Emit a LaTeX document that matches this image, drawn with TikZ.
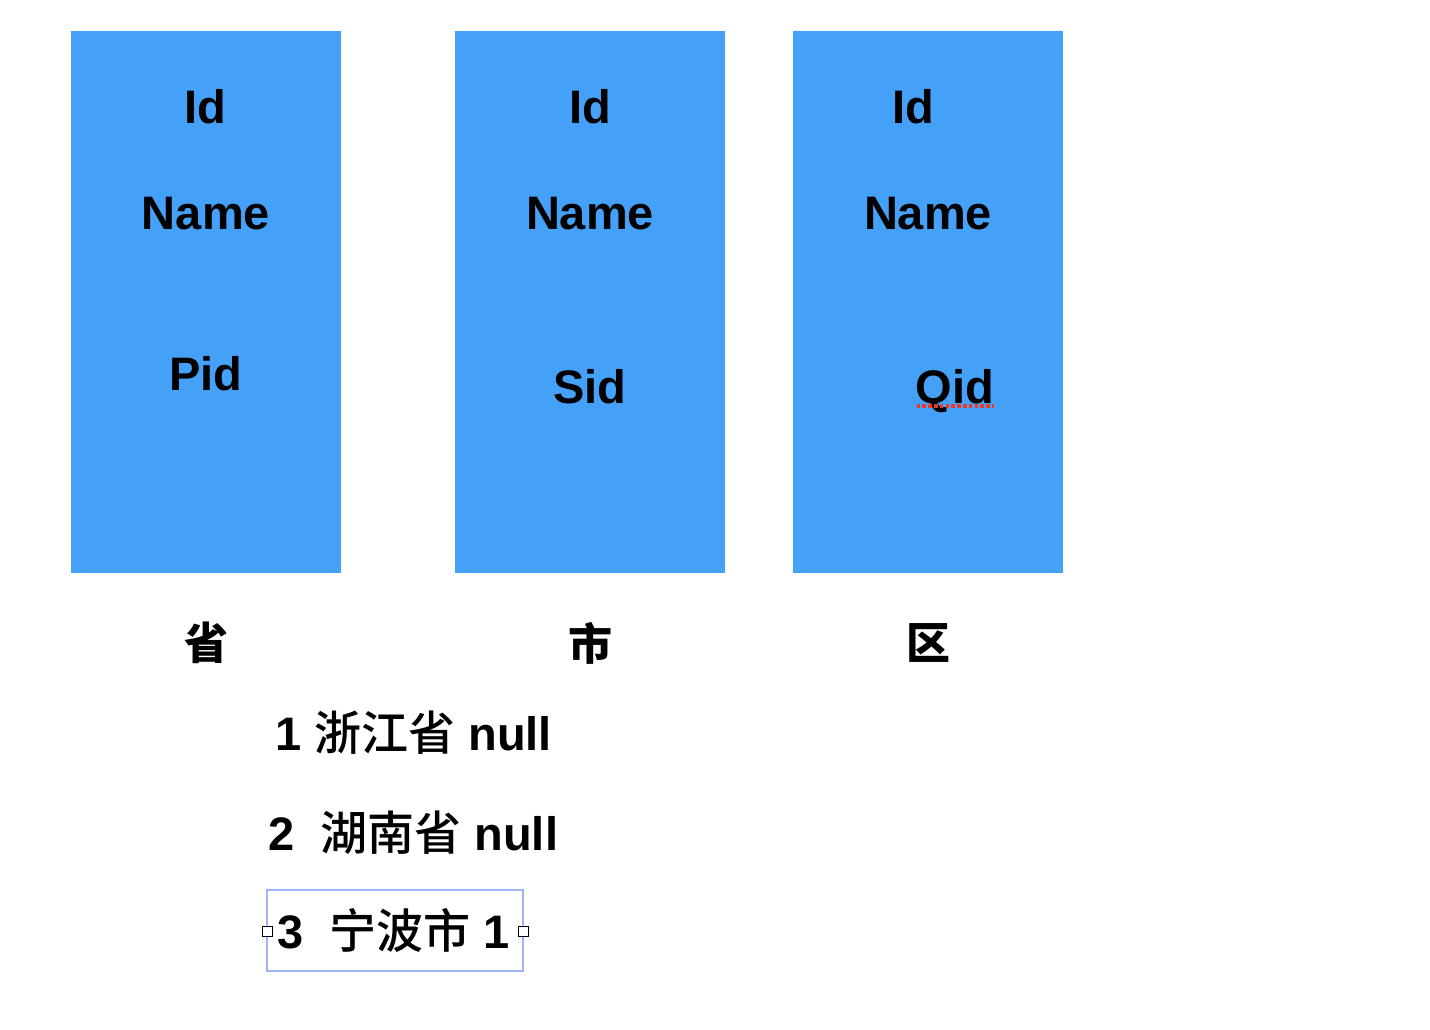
\documentclass[tikz,border=0pt]{standalone}
\usepackage{fontspec}
\setmainfont{Liberation Sans}
\newfontfamily\cjk{Noto Sans CJK SC}[BoldFont={* Medium}]
\newfontfamily\cjkheavy{Noto Sans CJK SC}
\usetikzlibrary{positioning}
\definecolor{tableblue}{HTML}{45A0F8}
\definecolor{selblue}{HTML}{9DB4F8}
\definecolor{spellred}{HTML}{E8392A}
\tikzset{
  table/.style={fill=tableblue, inner sep=0pt, minimum width=270pt, minimum height=542pt},
  field/.style={font=\fontsize{47}{56}\selectfont\bfseries, inner sep=0pt, anchor=base},
  caption/.style={font=\fontsize{44}{52}\selectfont\cjkheavy\bfseries, inner sep=0pt},
  row/.style={font=\fontsize{47}{56}\selectfont\bfseries, inner sep=0pt, anchor=base west},
  handle/.style={draw, fill=white, inner sep=0pt, minimum size=10pt, line width=0.8pt}
}

\begin{document}
\begin{tikzpicture}[x=1pt,y=-1pt]
    \useasboundingbox (0,0) rectangle (1430,1030);
    % three tables
    \node[table] (sheng) at (206,302) {};
    \node[table] (shi) at (590,302) {};
    \node[table] (qu) at (928,302) {};

    \node[field] (shengid) at (205,124) {Id};
    \node[field] (shengname) at (206,229) {Name};
    \node[field] (shengpid) at (206,390) {Pid};

    \node[field] (shiid) at (590,124) {Id};
    \node[field] (shiname) at (590,229) {Name};
    \node[field] (shisid) at (590,403) {Sid};

    \node[field] (quid) at (913,124) {Id};
    \node[field] (quname) at (928,229) {Name};
    \node[field] (quqid) at (955,403) {Qid};
    \draw[spellred, line width=3.5pt, dash pattern=on 3.5pt off 2.3pt] (quqid.base west) ++(1,3) coordinate (spellA) -- (spellA -| quqid.base east);

    \node[caption] (shenglabel) at (206,643) {省};
    \node[caption] (shilabel) at (590,643) {市};
    \node[caption] (qulabel) at (928,643) {区};

    % sample rows
    \node[row] (row1) at (275,750) {1 {\cjk 浙江省} null};
    \node[row] (row2) at (268,850) {2\ \ {\cjk 湖南省} null};
    \node[row] (row3) at (277,948) {3\ \ {\cjk 宁波市} 1};

    % selection frame
    \draw[selblue, line width=1.5pt] (267,890) rectangle (523,971);
    \node[handle] (handleL) at (267,931) {};
    \node[handle] (handleR) at (523,931) {};
\end{tikzpicture}
\end{document}
